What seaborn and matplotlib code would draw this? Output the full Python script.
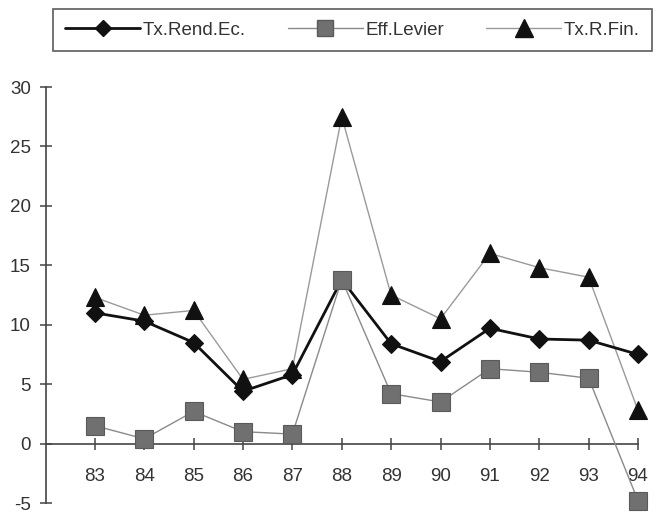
import matplotlib
matplotlib.use("Agg")
import matplotlib.pyplot as plt
import seaborn as sns
import pandas as pd
from matplotlib.lines import Line2D

years = [83, 84, 85, 86, 87, 88, 89, 90, 91, 92, 93, 94]
tx_rend_ec = [11.0, 10.3, 8.5, 4.4, 5.8, 13.8, 8.4, 6.9, 9.7, 8.8, 8.7, 7.5]
eff_levier = [1.5, 0.4, 2.7, 1.0, 0.8, 13.8, 4.2, 3.5, 6.3, 6.0, 5.5, -4.8]
tx_r_fin = [12.3, 10.8, 11.2, 5.4, 6.3, 27.5, 12.5, 10.5, 16.0, 14.8, 14.0, 2.8]
labels = ["Tx.Rend.Ec.", "Eff.Levier", "Tx.R.Fin."]
yticks = [-5, 0, 5, 10, 15, 20, 25, 30]

sns.set_style("white")
plt.rcParams["font.family"] = ["Liberation Sans", "DejaVu Sans"]
TXT = "#333333"

W, H = 662, 513
fig = plt.figure(figsize=(W / 100, H / 100), dpi=100)
ax_left, ax_right, ax_top, ax_bot = 45.5, 638, 87, 503
ax = fig.add_axes([ax_left / W, 1 - ax_bot / H, (ax_right - ax_left) / W, (ax_bot - ax_top) / H])

df = pd.DataFrame({"year": years, "rend": tx_rend_ec, "lev": eff_levier, "fin": tx_r_fin})

styles = {
    "rend": dict(color="#111111", lw=2.0, marker="D", ms=9, mfc="#111111", mec="#111111", zorder=4),
    "lev": dict(color="#8a8a8a", lw=1.0, marker="s", ms=12.5, mfc="#707070", mec="#5a5a5a", zorder=5),
    "fin": dict(color="#9a9a9a", lw=1.0, marker="^", ms=13, mfc="#111111", mec="#111111", zorder=3),
}
for key in ["fin", "rend", "lev"]:
    st = styles[key]
    sns.lineplot(data=df, x="year", y=key, ax=ax, color=st["color"], linewidth=st["lw"],
                 marker=st["marker"], markersize=st["ms"], markerfacecolor=st["mfc"],
                 markeredgecolor=st["mec"], markeredgewidth=0.8, zorder=st["zorder"],
                 clip_on=False)

ax.set_xlim(82, 94)
ax.set_ylim(-5, 30)
ax.set_xticks(years)
ax.set_xticklabels([str(y) for y in years])
ax.set_yticks(yticks)
ax.set_yticklabels([str(t) for t in yticks])
ax.set_xlabel("")
ax.set_ylabel("")
for s in ["top", "right"]:
    ax.spines[s].set_visible(False)
ax.spines["bottom"].set_position(("data", 0))
for s in ["left", "bottom"]:
    ax.spines[s].set_color("#444444")
    ax.spines[s].set_linewidth(1.2)
ax.tick_params(axis="both", direction="inout", length=8, width=1.1, color="#444444",
               labelsize=13.5, labelcolor=TXT)
ax.tick_params(axis="x", pad=13.5, bottom=True)
ax.tick_params(axis="y", pad=6.5, left=True)
ax.grid(False)
ax.set_facecolor("white")

handles = []
for key in ["rend", "lev", "fin"]:
    st = styles[key]
    handles.append(Line2D([], [], color=st["color"], lw=st["lw"], marker=st["marker"],
                          markersize=st["ms"] * 0.95, markerfacecolor=st["mfc"],
                          markeredgecolor=st["mec"]))
leg = fig.legend(handles, labels, loc="upper left",
                 bbox_to_anchor=(53 / W, 1 - 10 / H, 599 / W, 0.001), mode="expand",
                 ncol=3, frameon=True, fancybox=False, fontsize=13.5, handlelength=4.0,
                 handletextpad=0.15, borderpad=0.65, borderaxespad=0)
leg.get_frame().set_edgecolor("#333333")
leg.get_frame().set_linewidth(1.2)
for t in leg.get_texts():
    t.set_color(TXT)

fig.savefig("out.png", dpi=100)
